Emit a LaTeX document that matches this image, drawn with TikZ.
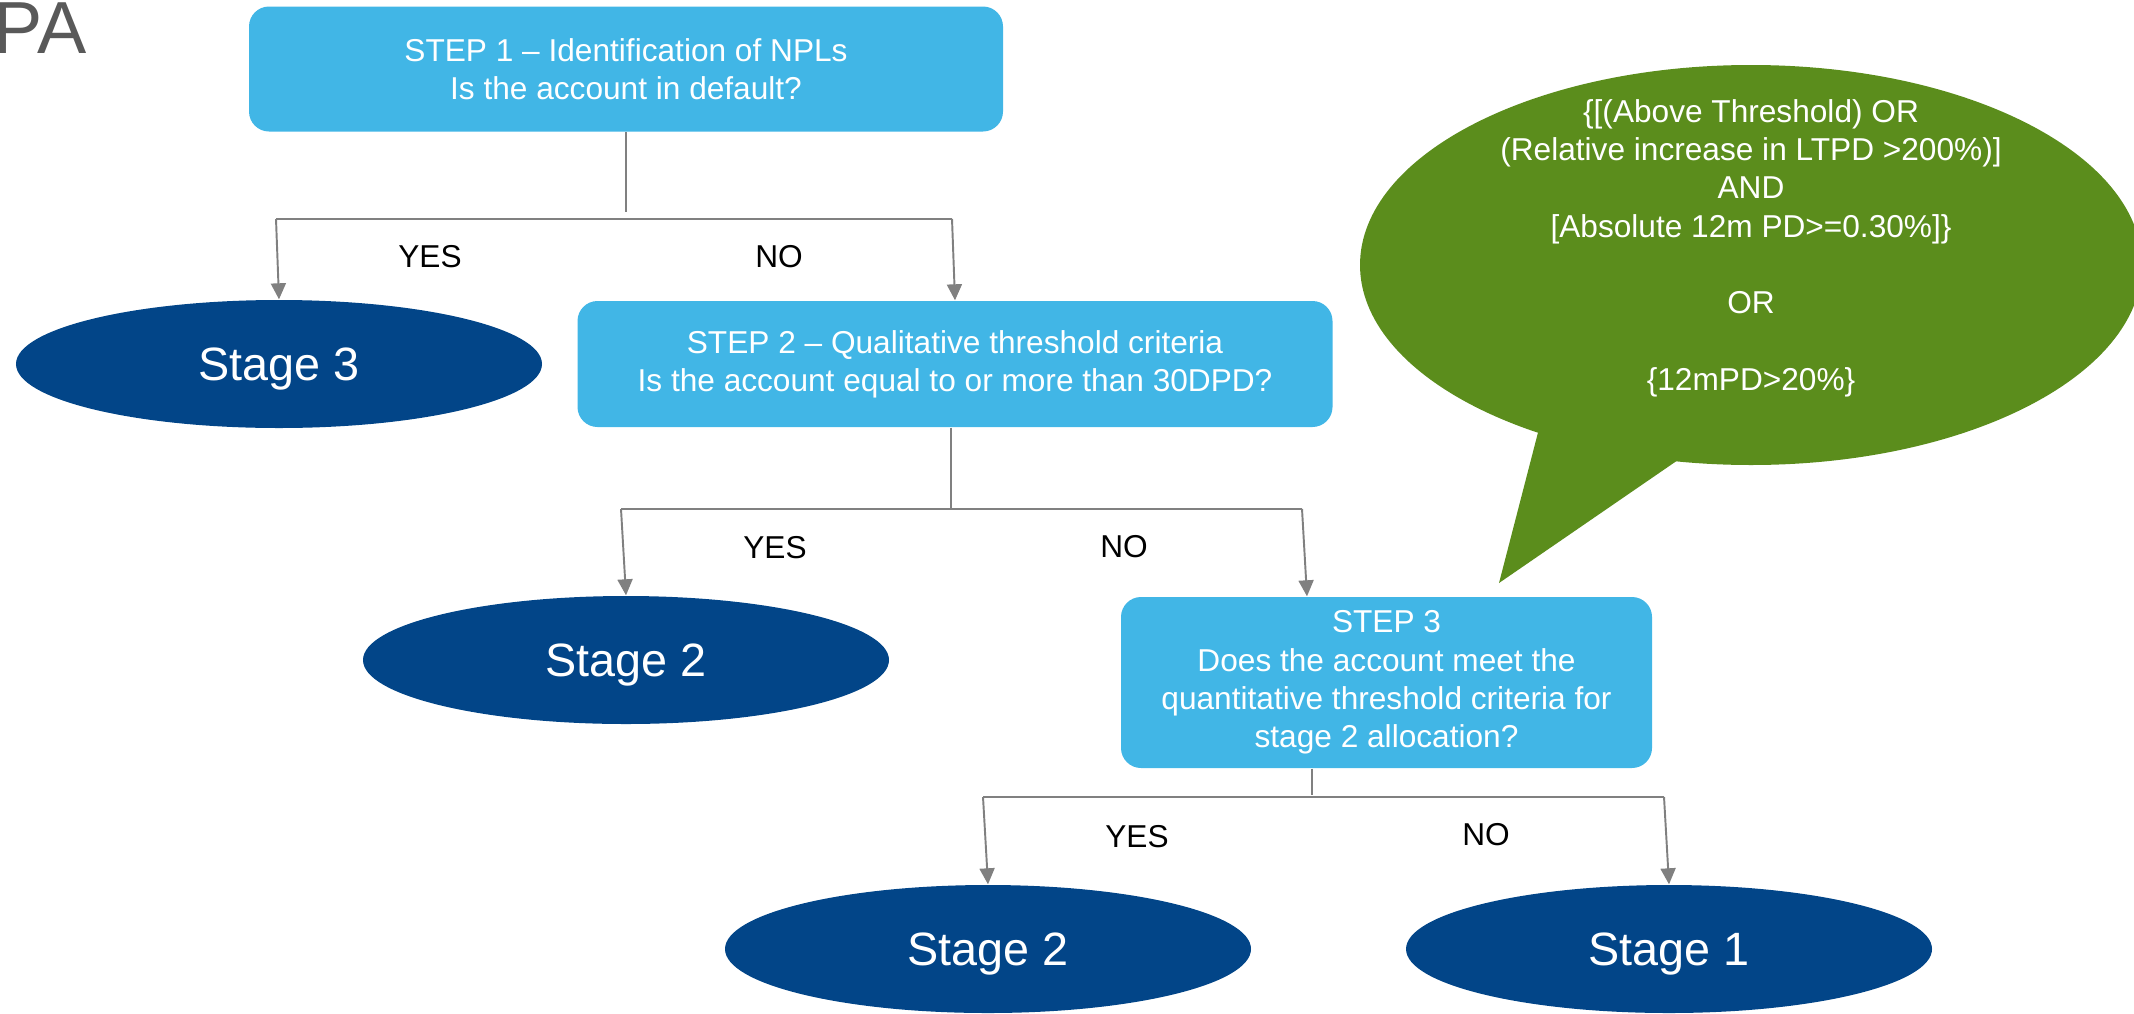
\documentclass[tikz,border=0pt]{standalone}
\usepackage{fontspec}
\setmainfont{Liberation Sans}
\usepackage{xcolor}
\usetikzlibrary{shapes.geometric, arrows.meta, positioning, calc}
\definecolor{stepblue}{RGB}{65,182,230}
\definecolor{stagenavy}{RGB}{2,69,136}
\definecolor{critgreen}{RGB}{91,141,28}
\definecolor{linegray}{RGB}{128,128,128}
\definecolor{titlegray}{RGB}{89,89,89}

\begin{document}
\begin{tikzpicture}[
    stepbox/.style={rectangle, rounded corners=0.2cm, fill=stepblue, text=white, align=center, inner sep=0pt, font=\fontsize{9}{10.9}\selectfont},
    stage/.style={ellipse, fill=stagenavy, text=white, minimum width=5.26cm, minimum height=1.28cm, inner sep=0pt, text depth=0pt, font=\fontsize{13.3}{16}\selectfont},
    arrow/.style={->, >={Triangle[width=1.5mm,length=1.6mm]}, draw=linegray, fill=linegray, line width=0.55pt},
    line/.style={-, draw=linegray, line width=0.55pt},
    answer/.style={font=\fontsize{9}{11}\selectfont}
]
    \useasboundingbox (0,0) rectangle (21.34,-10.13);

    % Title (cut off at the left)
    \node[anchor=base east, inner sep=0pt, text=titlegray, font=\fontsize{21}{25}\selectfont] (title) at (0.87,-0.53) {PA};

    % Criteria bubble
    \fill[critgreen] (17.51,-2.65) ellipse [x radius=3.91, y radius=2.00];
    \fill[critgreen] (15.42,-4.17) -- (14.99,-5.83) -- (16.94,-4.49) -- cycle;
    \node[align=center, text=white, font=\fontsize{9}{10.9}\selectfont] (crit) at (17.51,-2.48)
        {\{[(Above Threshold) OR\\(Relative increase in LTPD >200\%)]\\AND\\{[}Absolute 12m PD>=0.30\%{]}\}\\[10.9pt]OR\\[10.9pt]\{12mPD>20\%\}};

    % Steps
    \node[stepbox, minimum width=7.54cm, minimum height=1.25cm] (s1) at (6.26,-0.69) {STEP 1 – Identification of NPLs\\Is the account in default?};
    \node[stepbox, minimum width=7.55cm, minimum height=1.26cm] (s2) at (9.55,-3.64) {STEP 2 – Qualitative threshold criteria\\Is the account equal to or more than 30DPD?};
    \node[stepbox, minimum width=5.31cm, minimum height=1.71cm] (s3) at (13.865,-6.825) {STEP 3\\Does the account meet the\\quantitative threshold criteria for\\stage 2 allocation?};

    % Stages
    \node[stage] (st3) at (2.79,-3.64) {Stage 3};
    \node[stage] (st2a) at (6.26,-6.60) {Stage 2};
    \node[stage] (st2b) at (9.88,-9.49) {Stage 2};
    \node[stage] (st1) at (16.69,-9.49) {Stage 1};

    % Branch points
    \coordinate (j1) at (6.26,-2.12);
    \coordinate (y1) at (2.76,-2.19);
    \coordinate (n1) at (9.52,-2.19);
    \coordinate (j2) at (9.51,-5.09);
    \coordinate (y2) at (6.21,-5.09);
    \coordinate (n2) at (13.02,-5.09);
    \coordinate (j3) at (13.12,-7.95);
    \coordinate (y3) at (9.83,-7.97);
    \coordinate (n3) at (16.64,-7.97);

    % Connectors
    \draw[line] (s1.south) -- (j1);
    \draw[line] (y1) -- (n1);
    \draw[arrow] (y1) -- (st3.north);
    \draw[arrow] (n1) -- (s2.north);

    \draw[line] (j2 |- s2.south) -- (j2);
    \draw[line] (y2) -- (n2);
    \draw[arrow] (y2) -- (st2a.north);
    \draw[arrow] (n2) -- ($(n2 |- s3.north)+(0.05,0)$);

    \draw[line] (j3 |- s3.south) -- (j3);
    \draw[line] (y3) -- (n3);
    \draw[arrow] (y3) -- (st2b.north);
    \draw[arrow] (n3) -- (st1.north);

    % Answers
    \node[answer] (yes1) at (4.30,-2.57) {YES};
    \node[answer] (no1) at (7.79,-2.57) {NO};
    \node[answer] (yes2) at (7.75,-5.48) {YES};
    \node[answer] (no2) at (11.24,-5.47) {NO};
    \node[answer] (yes3) at (11.37,-8.37) {YES};
    \node[answer] (no3) at (14.86,-8.35) {NO};
\end{tikzpicture}
\end{document}
